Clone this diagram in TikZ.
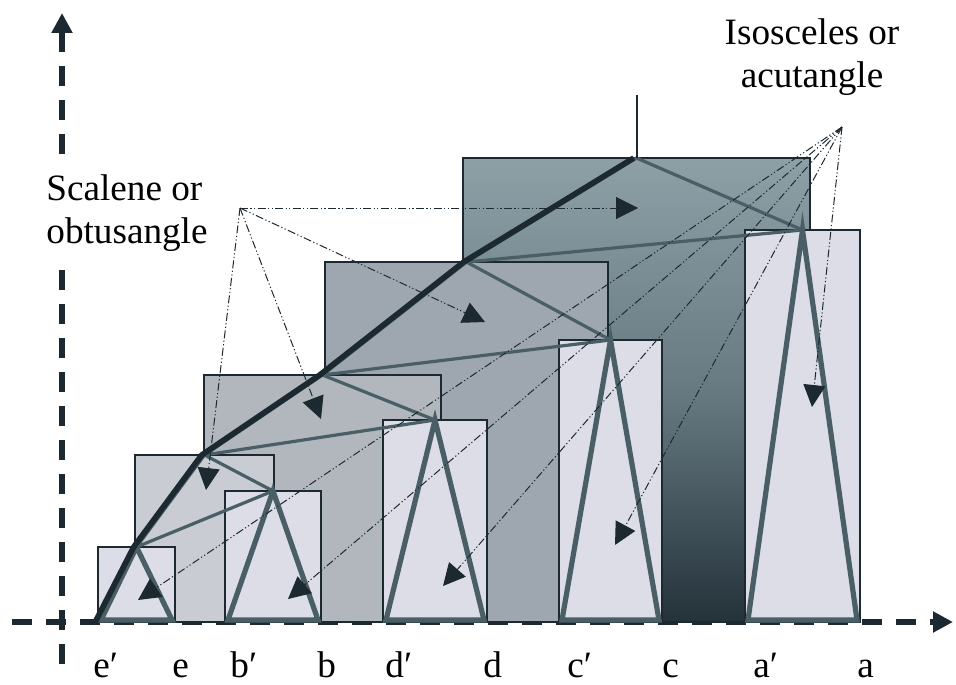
\documentclass[tikz,border=0pt]{standalone}
\usepackage{fontspec}
\setmainfont{Liberation Serif}
\usetikzlibrary{arrows.meta}

\definecolor{ink}{HTML}{1D2930}
\definecolor{edgegray}{HTML}{4A5E66}
\definecolor{leaffill}{HTML}{DCDDE6}
\definecolor{twofill}{HTML}{C9CCD2}
\definecolor{threefill}{HTML}{B2B7BE}
\definecolor{fourfill}{HTML}{9EA7AF}
\definecolor{fivetop}{HTML}{8DA0A6}
\definecolor{fivemid}{HTML}{677A82}
\definecolor{fivebot}{HTML}{24323A}

\begin{document}
\begin{tikzpicture}[
    x=0.5pt,
    y=-0.5pt,
    box/.style={rectangle, draw=ink, line width=1.2pt, inner sep=0pt, outer sep=0pt, anchor=south west},
    leafbox/.style={box, fill=leaffill},
    edge/.style={draw=edgegray, line width=1.6pt, line join=round},
    leafedge/.style={draw=edgegray, line width=2.6pt, line join=miter},
    spine/.style={draw=ink, line width=2.8pt, line join=round},
    hint/.style={draw=ink, line width=0.5pt, dash pattern=on 4pt off 1.2pt on 0.6pt off 1.2pt on 0.6pt off 1.2pt, -{Triangle[length=11pt, width=11pt]}},
    axis/.style={draw=ink, line width=3.2pt, dash pattern=on 10pt off 7pt, -{Triangle[length=10pt, width=10pt]}},
    note/.style={font=\fontsize{18.6}{21.5}\selectfont, inner sep=0pt},
    lbl/.style={font=\fontsize{18.6}{21.5}\selectfont, inner sep=0pt, anchor=base west}
]
\useasboundingbox (0,0) rectangle (956,684);

% axes
\coordinate (xfrom) at (12,622);
\coordinate (xto) at (953,622);
\coordinate (yfrom) at (62,664);
\coordinate (yto) at (62,13);
\draw[axis] (xfrom) -- (xto);
\draw[axis] (yfrom) -- (yto);

% nested boxes, outermost first
\node[box, top color=fivetop, bottom color=fivebot, middle color=fivemid, minimum width=173.5pt, minimum height=232pt] (five) at (463,622) {};
\node[box, fill=fourfill, minimum width=141.5pt, minimum height=180pt] (four) at (325,622) {};
\node[box, fill=threefill, minimum width=118.5pt, minimum height=123.5pt] (three) at (204,622) {};
\node[box, fill=twofill, minimum width=69.5pt, minimum height=83.5pt] (two) at (135,622) {};
\node[leafbox, minimum width=38.5pt, minimum height=37.5pt] (ebox) at (98,622) {};
\node[leafbox, minimum width=48pt, minimum height=65.5pt] (bbox) at (225,622) {};
\node[leafbox, minimum width=52pt, minimum height=101pt] (dbox) at (383,622) {};
\node[leafbox, minimum width=51.5pt, minimum height=141pt] (cbox) at (559,622) {};
\node[leafbox, minimum width=57.5pt, minimum height=196pt] (abox) at (745,622) {};

% leaf triangles
\foreach \leaf in {ebox, bbox, dbox, cbox, abox}
  \draw[leafedge] ([shift={(3,-2)}]\leaf.south west) -- (\leaf.north) -- ([shift={(-3,-2)}]\leaf.south east) -- cycle;

% inner triangles
\draw[edge] (ebox.north) -- (two.north) -- (bbox.north) -- cycle;
\draw[edge] (two.north) -- (three.north) -- (dbox.north) -- cycle;
\draw[edge] (three.north) -- (four.north) -- (cbox.north) -- cycle;
\draw[edge] (four.north) -- (five.north) -- (abox.north) -- cycle;

% left spine
\draw[spine, transform canvas={xshift=-1.4pt}] (ebox.south west) -- (ebox.north) -- (two.north) -- (three.north) -- (four.north) -- (five.north);

\coordinate (rootend) at ([yshift=31.5pt]five.north);
\draw[ink, line width=1pt] (five.north) -- (rootend);

% pointers
\coordinate (sc) at (240,208);
\coordinate (is) at (842,127);
\coordinate (t5) at (638,208);
\coordinate (t4) at (485,322);
\coordinate (t3) at (321,419);
\coordinate (t2) at (206,490);
\coordinate (te) at (138,600);
\coordinate (tb) at (288,599);
\coordinate (td) at (443,586);
\coordinate (tc) at (615,545);
\coordinate (ta) at (812,407);
\foreach \t in {t2,t3,t4,t5}
  \draw[hint] (sc) -- (\t);
\foreach \t in {te,tb,td,tc,ta}
  \draw[hint] (is) -- (\t);

\node[note, fill=white, inner sep=5pt, align=left, anchor=north west] (scalene) at (36,164) {Scalene or\\obtusangle};
\node[note, align=center, anchor=north] (isosceles) at (812,18) {Isosceles or\\acutangle};

\foreach \name/\txt/\x in {lep/e′/93, le/e/172, lbp/b′/230, lb/b/317, ldp/d′/385, ld/d/483, lcp/c′/567, lc/c/662, lap/a′/753, la/a/857}
  \node[lbl] (\name) at (\x,677) {\txt};
\end{tikzpicture}
\end{document}
